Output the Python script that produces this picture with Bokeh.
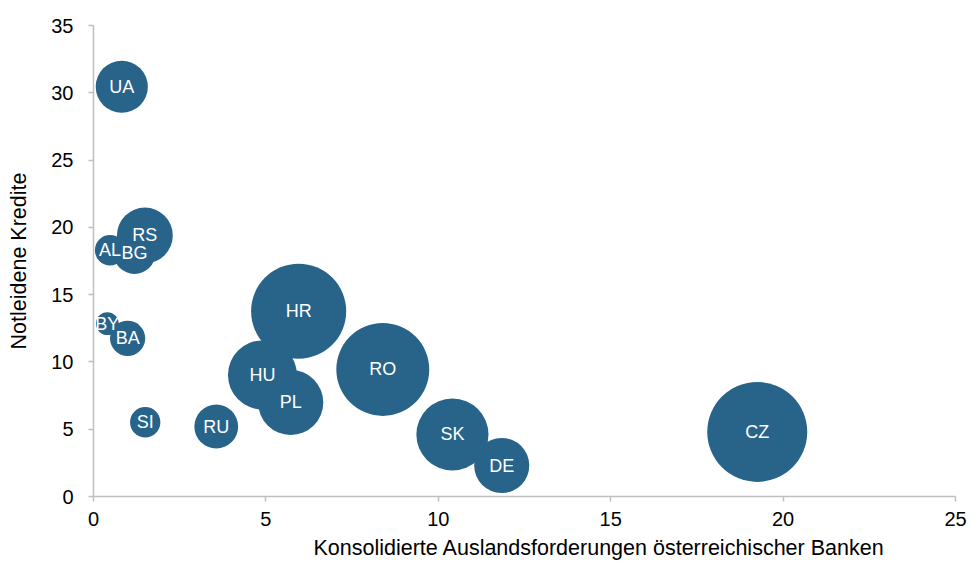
import numpy as np
from bokeh.plotting import figure
from bokeh.models import ColumnDataSource, Range1d, FixedTicker, Title
from bokeh.core.properties import value
from bokeh.embed import file_html
from bokeh.resources import INLINE

# Data
countries = ["UA", "RS", "AL", "BG", "BY", "BA", "SI", "RU", "HU", "PL", "HR", "RO", "SK", "DE", "CZ"]
claims = [0.82, 1.49, 0.48, 1.19, 0.40, 0.99, 1.50, 3.56, 4.90, 5.72, 5.95, 8.39, 10.41, 11.84, 19.25]
npl = [30.45, 19.4, 18.3, 18.1, 12.85, 11.75, 5.52, 5.2, 9.03, 6.99, 13.77, 9.44, 4.61, 2.30, 4.8]
bubble_size = [6.8, 7.8, 2.3, 4.4, 1.3, 3.1, 2.3, 4.8, 11.9, 10.6, 22.6, 21.6, 13.0, 7.6, 25.0]

x_ticks = [0, 5, 10, 15, 20, 25]
y_ticks = [0, 5, 10, 15, 20, 25, 30, 35]

FONT = "Liberation Sans"
BUBBLE = "#28648a"
AXIS = "#bfbfbf"

# bubble area proportional to size value
diam = [20.0 * np.sqrt(v) for v in bubble_size]

src = ColumnDataSource(dict(x=claims, y=npl, label=countries, d=diam))

p = figure(width=972, height=564, output_backend="svg", toolbar_location=None,
           x_range=Range1d(0, 25), y_range=Range1d(0, 35),
           min_border_left=93, min_border_right=17, min_border_top=25, min_border_bottom=68)
p.outline_line_color = None
p.xgrid.grid_line_color = None
p.ygrid.grid_line_color = None
p.background_fill_color = "white"
p.border_fill_color = "white"

p.scatter("x", "y", size="d", source=src, marker="circle",
          fill_color=BUBBLE, line_color=None)
p.text("x", "y", text="label", source=src, text_align="center", text_baseline="middle",
       text_color="white", text_font=value(FONT), text_font_size="18px")

for ax in (p.xaxis[0], p.yaxis[0]):
    ax.axis_line_color = AXIS
    ax.axis_line_width = 1.5
    ax.major_tick_line_color = AXIS
    ax.major_tick_line_width = 1.5
    ax.major_tick_out = 5
    ax.major_tick_in = 0
    ax.minor_tick_line_color = None
    ax.major_label_text_font = FONT
    ax.major_label_text_font_size = "20px"
    ax.major_label_text_color = "black"
    ax.axis_label_text_font = FONT
    ax.axis_label_text_font_size = "21.5px"
    ax.axis_label_text_font_style = "normal"
    ax.axis_label_text_color = "black"

p.xaxis[0].ticker = FixedTicker(ticks=x_ticks)
p.yaxis[0].ticker = FixedTicker(ticks=y_ticks)
p.xaxis[0].major_label_standoff = 10
p.yaxis[0].major_label_standoff = 15
p.yaxis[0].axis_label = "Notleidene Kredite"
p.yaxis[0].axis_label_standoff = 17

xt = Title(text="Konsolidierte Auslandsforderungen österreichischer Banken",
           align="left", offset=220, text_font=FONT, text_font_size="21.5px",
           text_font_style="normal", text_color="black", standoff=10)
p.add_layout(xt, "below")

open("out.html", "w").write(file_html(p, INLINE))
